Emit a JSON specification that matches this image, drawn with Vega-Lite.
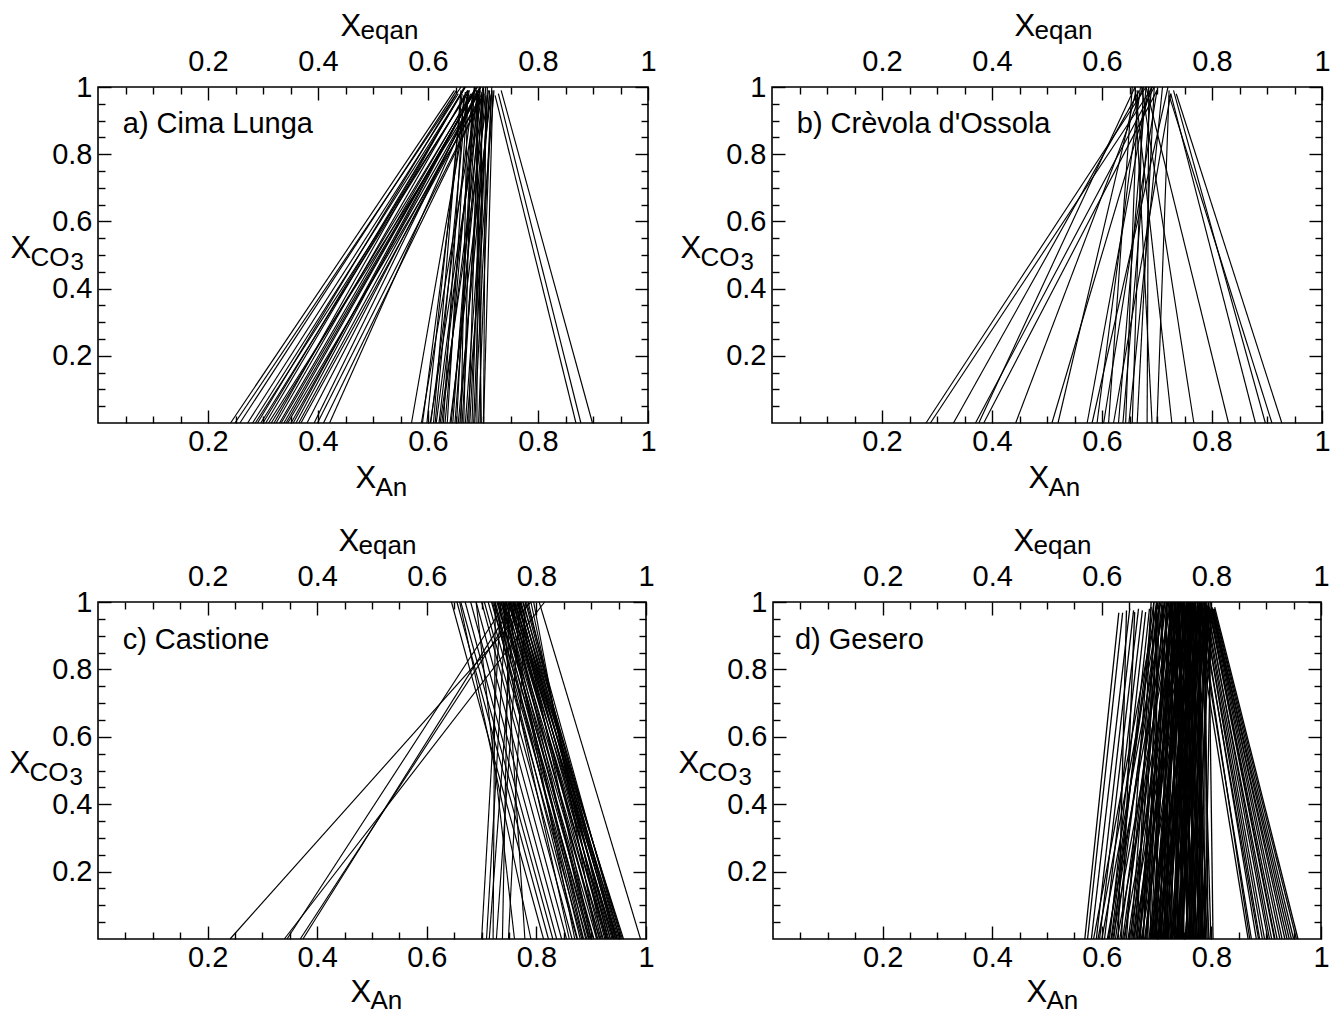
{
"$schema": "https://vega.github.io/schema/vega-lite/v6.json",
"background": "white",
"padding": {"left": 8, "top": 9, "right": 5, "bottom": 2},
"data": {"values": [
{"p":"a","an":0.241,"eq":0.648,"t":0.99},{"p":"a","an":0.249,"eq":0.660,"t":1},{"p":"a","an":0.258,"eq":0.652,"t":0.99},{"p":"a","an":0.272,"eq":0.655,"t":0.98},{"p":"a","an":0.281,"eq":0.668,"t":1},{"p":"a","an":0.286,"eq":0.672,"t":0.98},{"p":"a","an":0.290,"eq":0.650,"t":0.975},{"p":"a","an":0.296,"eq":0.675,"t":0.99},{"p":"a","an":0.300,"eq":0.662,"t":0.985},{"p":"a","an":0.305,"eq":0.668,"t":1},{"p":"a","an":0.310,"eq":0.688,"t":0.97},{"p":"a","an":0.315,"eq":0.680,"t":0.98},{"p":"a","an":0.320,"eq":0.666,"t":1},{"p":"a","an":0.324,"eq":0.672,"t":0.99},{"p":"a","an":0.330,"eq":0.678,"t":0.98},{"p":"a","an":0.333,"eq":0.690,"t":1},{"p":"a","an":0.338,"eq":0.686,"t":0.99},{"p":"a","an":0.342,"eq":0.680,"t":0.975},{"p":"a","an":0.345,"eq":0.698,"t":0.97},{"p":"a","an":0.351,"eq":0.694,"t":0.99},{"p":"a","an":0.355,"eq":0.684,"t":0.99},{"p":"a","an":0.360,"eq":0.688,"t":1},{"p":"a","an":0.365,"eq":0.692,"t":0.98},{"p":"a","an":0.369,"eq":0.698,"t":0.98},{"p":"a","an":0.380,"eq":0.696,"t":1},{"p":"a","an":0.393,"eq":0.690,"t":0.99},{"p":"a","an":0.399,"eq":0.700,"t":0.975},{"p":"a","an":0.410,"eq":0.702,"t":0.98},{"p":"a","an":0.421,"eq":0.694,"t":1},
{"p":"a","an":0.570,"eq":0.675,"t":0.99},{"p":"a","an":0.588,"eq":0.690,"t":0.975},{"p":"a","an":0.590,"eq":0.668,"t":0.985},{"p":"a","an":0.598,"eq":0.662,"t":0.98},{"p":"a","an":0.604,"eq":0.700,"t":1},{"p":"a","an":0.605,"eq":0.682,"t":0.98},{"p":"a","an":0.610,"eq":0.660,"t":0.99},{"p":"a","an":0.613,"eq":0.670,"t":0.97},{"p":"a","an":0.615,"eq":0.695,"t":1},{"p":"a","an":0.620,"eq":0.690,"t":0.985},{"p":"a","an":0.622,"eq":0.710,"t":0.99},{"p":"a","an":0.625,"eq":0.700,"t":0.975},{"p":"a","an":0.628,"eq":0.665,"t":0.975},{"p":"a","an":0.631,"eq":0.685,"t":1},{"p":"a","an":0.635,"eq":0.672,"t":0.99},{"p":"a","an":0.640,"eq":0.715,"t":0.98},{"p":"a","an":0.642,"eq":0.702,"t":0.98},{"p":"a","an":0.645,"eq":0.690,"t":0.97},{"p":"a","an":0.649,"eq":0.695,"t":0.99},{"p":"a","an":0.652,"eq":0.684,"t":1},{"p":"a","an":0.655,"eq":0.712,"t":0.975},{"p":"a","an":0.658,"eq":0.705,"t":1},{"p":"a","an":0.660,"eq":0.672,"t":0.985},{"p":"a","an":0.662,"eq":0.698,"t":0.975},{"p":"a","an":0.665,"eq":0.680,"t":0.97},{"p":"a","an":0.668,"eq":0.712,"t":0.99},{"p":"a","an":0.671,"eq":0.720,"t":0.99},{"p":"a","an":0.674,"eq":0.692,"t":0.98},{"p":"a","an":0.676,"eq":0.708,"t":0.975},{"p":"a","an":0.680,"eq":0.700,"t":0.98},{"p":"a","an":0.683,"eq":0.708,"t":1},{"p":"a","an":0.685,"eq":0.716,"t":1},{"p":"a","an":0.689,"eq":0.690,"t":0.97},{"p":"a","an":0.692,"eq":0.715,"t":0.975},{"p":"a","an":0.695,"eq":0.698,"t":0.985},{"p":"a","an":0.697,"eq":0.688,"t":0.99},{"p":"a","an":0.701,"eq":0.705,"t":0.975},{"p":"a","an":0.701,"eq":0.718,"t":0.99},
{"p":"a","an":0.869,"eq":0.722,"t":0.975},{"p":"a","an":0.878,"eq":0.728,"t":0.98},{"p":"a","an":0.899,"eq":0.733,"t":0.99},
{"p":"b","an":0.280,"eq":0.680,"t":1},{"p":"b","an":0.288,"eq":0.692,"t":1},{"p":"b","an":0.330,"eq":0.668,"t":0.99},{"p":"b","an":0.370,"eq":0.695,"t":1},{"p":"b","an":0.376,"eq":0.660,"t":1},{"p":"b","an":0.385,"eq":0.700,"t":0.99},{"p":"b","an":0.443,"eq":0.675,"t":1},{"p":"b","an":0.509,"eq":0.690,"t":1},{"p":"b","an":0.520,"eq":0.662,"t":0.99},{"p":"b","an":0.573,"eq":0.685,"t":1},{"p":"b","an":0.582,"eq":0.720,"t":1},{"p":"b","an":0.591,"eq":0.670,"t":1},{"p":"b","an":0.603,"eq":0.700,"t":0.99},{"p":"b","an":0.612,"eq":0.655,"t":1},{"p":"b","an":0.621,"eq":0.725,"t":0.98},{"p":"b","an":0.630,"eq":0.680,"t":1},{"p":"b","an":0.638,"eq":0.690,"t":1},{"p":"b","an":0.643,"eq":0.665,"t":0.99},{"p":"b","an":0.649,"eq":0.710,"t":1},{"p":"b","an":0.655,"eq":0.675,"t":1},{"p":"b","an":0.664,"eq":0.695,"t":1},{"p":"b","an":0.682,"eq":0.685,"t":1},{"p":"b","an":0.691,"eq":0.660,"t":1},{"p":"b","an":0.700,"eq":0.722,"t":0.99},{"p":"b","an":0.727,"eq":0.660,"t":1},{"p":"b","an":0.767,"eq":0.672,"t":1},{"p":"b","an":0.830,"eq":0.680,"t":1},{"p":"b","an":0.879,"eq":0.725,"t":0.98},{"p":"b","an":0.897,"eq":0.730,"t":0.99},{"p":"b","an":0.909,"eq":0.722,"t":0.975},{"p":"b","an":0.927,"eq":0.735,"t":0.98},
{"p":"c","an":0.241,"eq":0.790,"t":1},{"p":"c","an":0.340,"eq":0.815,"t":1},{"p":"c","an":0.345,"eq":0.745,"t":1},{"p":"c","an":0.369,"eq":0.770,"t":1},{"p":"c","an":0.374,"eq":0.760,"t":1},
{"p":"c","an":0.700,"eq":0.735,"t":1},{"p":"c","an":0.709,"eq":0.745,"t":1},{"p":"c","an":0.714,"eq":0.760,"t":1},{"p":"c","an":0.721,"eq":0.725,"t":1},{"p":"c","an":0.727,"eq":0.770,"t":1},{"p":"c","an":0.738,"eq":0.750,"t":1},{"p":"c","an":0.749,"eq":0.780,"t":1},{"p":"c","an":0.779,"eq":0.740,"t":1},{"p":"c","an":0.790,"eq":0.660,"t":1},{"p":"c","an":0.760,"eq":0.690,"t":1},
{"p":"c","an":0.813,"eq":0.645,"t":1},{"p":"c","an":0.822,"eq":0.655,"t":1},{"p":"c","an":0.830,"eq":0.662,"t":1},{"p":"c","an":0.837,"eq":0.670,"t":1},{"p":"c","an":0.846,"eq":0.680,"t":1},{"p":"c","an":0.855,"eq":0.690,"t":1},{"p":"c","an":0.865,"eq":0.700,"t":1},{"p":"c","an":0.874,"eq":0.705,"t":1},{"p":"c","an":0.883,"eq":0.712,"t":1},{"p":"c","an":0.892,"eq":0.718,"t":1},{"p":"c","an":0.898,"eq":0.722,"t":1},{"p":"c","an":0.904,"eq":0.728,"t":1},{"p":"c","an":0.910,"eq":0.732,"t":1},{"p":"c","an":0.916,"eq":0.736,"t":1},{"p":"c","an":0.922,"eq":0.740,"t":1},{"p":"c","an":0.929,"eq":0.744,"t":1},{"p":"c","an":0.935,"eq":0.748,"t":1},{"p":"c","an":0.941,"eq":0.752,"t":1},{"p":"c","an":0.947,"eq":0.756,"t":1},{"p":"c","an":0.953,"eq":0.760,"t":1},{"p":"c","an":0.959,"eq":0.764,"t":1},{"p":"c","an":0.880,"eq":0.730,"t":1},{"p":"c","an":0.890,"eq":0.738,"t":1},{"p":"c","an":0.900,"eq":0.742,"t":1},{"p":"c","an":0.912,"eq":0.750,"t":1},{"p":"c","an":0.925,"eq":0.754,"t":1},{"p":"c","an":0.932,"eq":0.758,"t":1},{"p":"c","an":0.938,"eq":0.762,"t":1},{"p":"c","an":0.944,"eq":0.766,"t":1},{"p":"c","an":0.950,"eq":0.770,"t":1},{"p":"c","an":0.955,"eq":0.775,"t":1},{"p":"c","an":0.945,"eq":0.780,"t":1},{"p":"c","an":0.930,"eq":0.785,"t":1},{"p":"c","an":0.920,"eq":0.790,"t":1},{"p":"c","an":0.910,"eq":0.795,"t":1},{"p":"c","an":0.990,"eq":0.805,"t":1},{"p":"c","an":0.935,"eq":0.772,"t":1},{"p":"c","an":0.900,"eq":0.768,"t":1},{"p":"c","an":0.870,"eq":0.746,"t":1},{"p":"c","an":0.860,"eq":0.724,"t":1},
{"p":"c","an":0.905,"eq":0.735,"t":1},{"p":"c","an":0.915,"eq":0.745,"t":1},{"p":"c","an":0.927,"eq":0.752,"t":1},{"p":"c","an":0.940,"eq":0.760,"t":1},{"p":"c","an":0.948,"eq":0.765,"t":1},{"p":"c","an":0.957,"eq":0.770,"t":1},{"p":"c","an":0.895,"eq":0.730,"t":1},{"p":"c","an":0.885,"eq":0.725,"t":1},{"p":"c","an":0.875,"eq":0.720,"t":1},{"p":"c","an":0.918,"eq":0.758,"t":1},{"p":"c","an":0.928,"eq":0.768,"t":1},{"p":"c","an":0.942,"eq":0.776,"t":1},{"p":"c","an":0.952,"eq":0.782,"t":1},{"p":"c","an":0.886,"eq":0.740,"t":1},{"p":"c","an":0.896,"eq":0.752,"t":1},
{"p":"d","an":0.569,"eq":0.631,"t":0.968},{"p":"d","an":0.574,"eq":0.638,"t":0.968},{"p":"d","an":0.581,"eq":0.651,"t":0.98},{"p":"d","an":0.590,"eq":0.658,"t":0.975},{"p":"d","an":0.596,"eq":0.667,"t":0.98},{"p":"d","an":0.605,"eq":0.674,"t":0.975},{"p":"d","an":0.614,"eq":0.680,"t":0.97},{"p":"d","an":0.622,"eq":0.687,"t":0.98},{"p":"d","an":0.630,"eq":0.645,"t":0.975},{"p":"d","an":0.636,"eq":0.660,"t":0.97},{"p":"d","an":0.645,"eq":0.690,"t":0.985},{"p":"d","an":0.653,"eq":0.700,"t":0.99},
{"p":"d","an":0.660,"eq":0.705,"t":1},{"p":"d","an":0.669,"eq":0.712,"t":0.99},{"p":"d","an":0.675,"eq":0.720,"t":1},{"p":"d","an":0.684,"eq":0.700,"t":1},{"p":"d","an":0.692,"eq":0.728,"t":0.99},{"p":"d","an":0.699,"eq":0.735,"t":1},{"p":"d","an":0.707,"eq":0.742,"t":1},{"p":"d","an":0.716,"eq":0.710,"t":0.99},{"p":"d","an":0.724,"eq":0.750,"t":1},{"p":"d","an":0.732,"eq":0.758,"t":1},{"p":"d","an":0.739,"eq":0.725,"t":0.99},{"p":"d","an":0.748,"eq":0.765,"t":1},{"p":"d","an":0.756,"eq":0.740,"t":1},{"p":"d","an":0.763,"eq":0.772,"t":0.99},{"p":"d","an":0.771,"eq":0.755,"t":1},{"p":"d","an":0.779,"eq":0.780,"t":1},{"p":"d","an":0.786,"eq":0.762,"t":0.99},{"p":"d","an":0.794,"eq":0.788,"t":1},{"p":"d","an":0.803,"eq":0.795,"t":0.98},
{"p":"d","an":0.600,"eq":0.715,"t":1},{"p":"d","an":0.610,"eq":0.725,"t":0.99},{"p":"d","an":0.620,"eq":0.735,"t":1},{"p":"d","an":0.628,"eq":0.745,"t":1},{"p":"d","an":0.640,"eq":0.752,"t":0.99},{"p":"d","an":0.650,"eq":0.760,"t":1},{"p":"d","an":0.658,"eq":0.768,"t":1},{"p":"d","an":0.665,"eq":0.730,"t":1},{"p":"d","an":0.672,"eq":0.775,"t":0.99},{"p":"d","an":0.680,"eq":0.745,"t":1},{"p":"d","an":0.688,"eq":0.782,"t":1},{"p":"d","an":0.695,"eq":0.755,"t":1},{"p":"d","an":0.703,"eq":0.790,"t":0.99},{"p":"d","an":0.711,"eq":0.765,"t":1},{"p":"d","an":0.719,"eq":0.770,"t":1},{"p":"d","an":0.728,"eq":0.785,"t":1},{"p":"d","an":0.736,"eq":0.792,"t":0.99},{"p":"d","an":0.744,"eq":0.775,"t":1},{"p":"d","an":0.752,"eq":0.798,"t":1},{"p":"d","an":0.760,"eq":0.790,"t":0.98},{"p":"d","an":0.767,"eq":0.800,"t":0.98},{"p":"d","an":0.775,"eq":0.722,"t":1},{"p":"d","an":0.783,"eq":0.733,"t":1},{"p":"d","an":0.790,"eq":0.748,"t":0.99},{"p":"d","an":0.585,"eq":0.700,"t":0.99},{"p":"d","an":0.593,"eq":0.708,"t":1},{"p":"d","an":0.617,"eq":0.695,"t":1},{"p":"d","an":0.633,"eq":0.718,"t":1},{"p":"d","an":0.662,"eq":0.740,"t":1},{"p":"d","an":0.690,"eq":0.718,"t":1},{"p":"d","an":0.714,"eq":0.750,"t":1},{"p":"d","an":0.742,"eq":0.760,"t":1},{"p":"d","an":0.758,"eq":0.728,"t":1},
{"p":"d","an":0.612,"eq":0.700,"t":1},{"p":"d","an":0.618,"eq":0.712,"t":0.99},{"p":"d","an":0.625,"eq":0.705,"t":1},{"p":"d","an":0.638,"eq":0.725,"t":1},{"p":"d","an":0.642,"eq":0.710,"t":1},{"p":"d","an":0.648,"eq":0.735,"t":0.99},{"p":"d","an":0.655,"eq":0.715,"t":1},{"p":"d","an":0.668,"eq":0.750,"t":1},{"p":"d","an":0.670,"eq":0.722,"t":1},{"p":"d","an":0.678,"eq":0.758,"t":0.99},{"p":"d","an":0.682,"eq":0.735,"t":1},{"p":"d","an":0.686,"eq":0.765,"t":1},{"p":"d","an":0.694,"eq":0.740,"t":1},{"p":"d","an":0.697,"eq":0.772,"t":1},{"p":"d","an":0.701,"eq":0.748,"t":0.99},{"p":"d","an":0.705,"eq":0.778,"t":1},{"p":"d","an":0.709,"eq":0.735,"t":1},{"p":"d","an":0.713,"eq":0.785,"t":1},{"p":"d","an":0.717,"eq":0.758,"t":1},{"p":"d","an":0.721,"eq":0.742,"t":0.99},{"p":"d","an":0.726,"eq":0.795,"t":1},{"p":"d","an":0.730,"eq":0.768,"t":1},{"p":"d","an":0.734,"eq":0.745,"t":1},{"p":"d","an":0.738,"eq":0.780,"t":1},{"p":"d","an":0.741,"eq":0.752,"t":0.99},{"p":"d","an":0.746,"eq":0.788,"t":1},{"p":"d","an":0.750,"eq":0.735,"t":1},{"p":"d","an":0.754,"eq":0.770,"t":1},{"p":"d","an":0.757,"eq":0.795,"t":0.99},{"p":"d","an":0.762,"eq":0.750,"t":1},{"p":"d","an":0.765,"eq":0.785,"t":1},{"p":"d","an":0.769,"eq":0.738,"t":1},{"p":"d","an":0.773,"eq":0.795,"t":1},{"p":"d","an":0.777,"eq":0.760,"t":1},{"p":"d","an":0.781,"eq":0.792,"t":0.99},{"p":"d","an":0.785,"eq":0.745,"t":1},{"p":"d","an":0.788,"eq":0.800,"t":1},{"p":"d","an":0.792,"eq":0.770,"t":1},{"p":"d","an":0.796,"eq":0.760,"t":1},{"p":"d","an":0.799,"eq":0.782,"t":0.99},{"p":"d","an":0.700,"eq":0.700,"t":1},{"p":"d","an":0.720,"eq":0.718,"t":1},{"p":"d","an":0.740,"eq":0.732,"t":1},{"p":"d","an":0.760,"eq":0.760,"t":1},{"p":"d","an":0.780,"eq":0.775,"t":1},{"p":"d","an":0.664,"eq":0.690,"t":1},{"p":"d","an":0.676,"eq":0.695,"t":1},{"p":"d","an":0.688,"eq":0.705,"t":0.99},{"p":"d","an":0.698,"eq":0.712,"t":1},{"p":"d","an":0.706,"eq":0.725,"t":1},
{"p":"d","an":0.690,"eq":0.760,"t":1},{"p":"d","an":0.693,"eq":0.725,"t":1},{"p":"d","an":0.696,"eq":0.748,"t":1},{"p":"d","an":0.702,"eq":0.768,"t":1},{"p":"d","an":0.704,"eq":0.730,"t":1},{"p":"d","an":0.708,"eq":0.755,"t":1},{"p":"d","an":0.710,"eq":0.780,"t":1},{"p":"d","an":0.712,"eq":0.742,"t":1},{"p":"d","an":0.715,"eq":0.770,"t":1},{"p":"d","an":0.718,"eq":0.732,"t":1},{"p":"d","an":0.722,"eq":0.762,"t":1},{"p":"d","an":0.725,"eq":0.778,"t":1},{"p":"d","an":0.727,"eq":0.738,"t":1},{"p":"d","an":0.729,"eq":0.755,"t":1},{"p":"d","an":0.733,"eq":0.772,"t":1},{"p":"d","an":0.735,"eq":0.790,"t":1},{"p":"d","an":0.737,"eq":0.748,"t":1},{"p":"d","an":0.743,"eq":0.765,"t":1},{"p":"d","an":0.745,"eq":0.782,"t":1},{"p":"d","an":0.747,"eq":0.742,"t":1},{"p":"d","an":0.749,"eq":0.758,"t":1},{"p":"d","an":0.753,"eq":0.788,"t":1},{"p":"d","an":0.755,"eq":0.752,"t":1},{"p":"d","an":0.759,"eq":0.775,"t":1},{"p":"d","an":0.761,"eq":0.738,"t":1},{"p":"d","an":0.764,"eq":0.768,"t":1},{"p":"d","an":0.766,"eq":0.792,"t":1},{"p":"d","an":0.768,"eq":0.756,"t":1},{"p":"d","an":0.770,"eq":0.780,"t":1},{"p":"d","an":0.774,"eq":0.748,"t":1},{"p":"d","an":0.776,"eq":0.788,"t":1},{"p":"d","an":0.778,"eq":0.765,"t":1},{"p":"d","an":0.782,"eq":0.755,"t":1},{"p":"d","an":0.784,"eq":0.778,"t":1},{"p":"d","an":0.787,"eq":0.790,"t":1},{"p":"d","an":0.789,"eq":0.765,"t":1},{"p":"d","an":0.680,"eq":0.728,"t":1},{"p":"d","an":0.674,"eq":0.738,"t":1},{"p":"d","an":0.667,"eq":0.745,"t":1},{"p":"d","an":0.657,"eq":0.728,"t":1},
{"p":"d","an":0.867,"eq":0.770,"t":0.98},{"p":"d","an":0.870,"eq":0.778,"t":0.98},{"p":"d","an":0.873,"eq":0.775,"t":0.975},{"p":"d","an":0.882,"eq":0.782,"t":0.98},{"p":"d","an":0.886,"eq":0.780,"t":0.98},{"p":"d","an":0.888,"eq":0.785,"t":0.985},{"p":"d","an":0.893,"eq":0.786,"t":0.975},{"p":"d","an":0.897,"eq":0.788,"t":0.98},{"p":"d","an":0.903,"eq":0.790,"t":0.975},{"p":"d","an":0.906,"eq":0.793,"t":0.98},{"p":"d","an":0.910,"eq":0.792,"t":0.98},{"p":"d","an":0.915,"eq":0.795,"t":0.985},{"p":"d","an":0.916,"eq":0.797,"t":0.98},{"p":"d","an":0.920,"eq":0.796,"t":0.985},{"p":"d","an":0.925,"eq":0.799,"t":0.975},{"p":"d","an":0.929,"eq":0.800,"t":0.98},{"p":"d","an":0.934,"eq":0.801,"t":0.985},{"p":"d","an":0.938,"eq":0.800,"t":0.98},{"p":"d","an":0.942,"eq":0.802,"t":0.98},{"p":"d","an":0.946,"eq":0.803,"t":0.975},{"p":"d","an":0.950,"eq":0.804,"t":0.98},{"p":"d","an":0.955,"eq":0.805,"t":0.98},{"p":"d","an":0.958,"eq":0.806,"t":0.985}
]},
"vconcat": [
{"hconcat": [
{"width": 550, "height": 336,
 "transform": [{"filter": "datum.p === 'a'"}],
 "resolve": {"axis": {"x": "independent", "y": "independent"}},
 "layer": [
  {"mark": {"type": "rule", "color": "black", "strokeWidth": 1.15},
   "encoding": {
    "x": {"field": "eq", "type": "quantitative", "scale": {"domain": [0, 1], "nice": false, "zero": false}, "axis": {"orient": "bottom", "values": [0.2, 0.4, 0.6, 0.8, 1], "format": "~g", "tickSize": -13, "labelPadding": 17, "title": "X", "titleX": 257, "titleY": 64, "titleFontSize": 31}},
    "x2": {"field": "an"},
    "y": {"field": "t", "type": "quantitative", "scale": {"domain": [0, 1], "nice": false, "zero": false}, "axis": {"orient": "left", "values": [0.2, 0.4, 0.6, 0.8, 1], "format": "~g", "tickSize": -13, "labelPadding": 19, "title": "X", "titleX": -88, "titleY": 170, "titleFontSize": 31}},
    "y2": {"datum": 0}}},
  {"mark": {"type": "point", "opacity": 0},
   "encoding": {
    "x": {"field": "an", "type": "quantitative", "scale": {"domain": [0, 1], "nice": false, "zero": false}, "axis": {"orient": "top", "values": [0.2, 0.4, 0.6, 0.8, 1], "format": "~g", "tickSize": -13, "labelPadding": 24, "title": "X", "titleX": 242, "titleY": -52, "titleFontSize": 31}},
    "y": {"field": "t", "type": "quantitative", "scale": {"domain": [0, 1], "nice": false, "zero": false}, "axis": {"orient": "right", "values": [0.2, 0.4, 0.6, 0.8, 1], "labels": false, "tickSize": -13, "title": null}}}},
  {"mark": {"type": "point", "opacity": 0},
   "encoding": {
    "x": {"field": "an", "type": "quantitative", "scale": {"domain": [0, 1], "nice": false, "zero": false}, "axis": {"orient": "bottom", "values": [0.05, 0.1, 0.15, 0.25, 0.3, 0.35, 0.45, 0.5, 0.55, 0.65, 0.7, 0.75, 0.85, 0.9, 0.95], "labels": false, "tickSize": -7, "title": "An", "titleX": 277, "titleY": 72}},
    "y": {"field": "t", "type": "quantitative", "scale": {"domain": [0, 1], "nice": false, "zero": false}, "axis": {"orient": "left", "values": [0.05, 0.1, 0.15, 0.25, 0.3, 0.35, 0.45, 0.5, 0.55, 0.65, 0.7, 0.75, 0.85, 0.9, 0.95], "labels": false, "tickSize": -7, "title": "CO", "titleX": -68, "titleY": 178}}}},
  {"mark": {"type": "point", "opacity": 0},
   "encoding": {
    "x": {"field": "an", "type": "quantitative", "scale": {"domain": [0, 1], "nice": false, "zero": false}, "axis": {"orient": "top", "values": [0.05, 0.1, 0.15, 0.25, 0.3, 0.35, 0.45, 0.5, 0.55, 0.65, 0.7, 0.75, 0.85, 0.9, 0.95], "labels": false, "tickSize": -7, "title": "eqan", "titleX": 262, "titleY": -49}},
    "y": {"field": "t", "type": "quantitative", "scale": {"domain": [0, 1], "nice": false, "zero": false}, "axis": {"orient": "right", "values": [0.05, 0.1, 0.15, 0.25, 0.3, 0.35, 0.45, 0.5, 0.55, 0.65, 0.7, 0.75, 0.85, 0.9, 0.95], "labels": false, "tickSize": -7, "title": null}}}},
  {"mark": {"type": "point", "opacity": 0},
   "encoding": {
    "x": {"field": "an", "type": "quantitative", "scale": {"domain": [0, 1], "nice": false, "zero": false}, "axis": null},
    "y": {"field": "t", "type": "quantitative", "scale": {"domain": [0, 1], "nice": false, "zero": false}, "axis": {"orient": "left", "ticks": false, "labels": false, "title": "3", "titleX": -28, "titleY": 182, "titleFontSize": 24}}}},
  {"data": {"values": [{"label": "a) Cima Lunga"}]},
   "mark": {"type": "text", "align": "left", "baseline": "alphabetic", "fontSize": 29, "font": "Liberation Sans", "color": "black"},
   "encoding": {
    "x": {"datum": 0.045, "type": "quantitative", "scale": {"domain": [0, 1], "nice": false, "zero": false}, "axis": null},
    "y": {"datum": 0.862, "type": "quantitative", "scale": {"domain": [0, 1], "nice": false, "zero": false}, "axis": null},
    "text": {"field": "label"}}}
 ]},
{"width": 550, "height": 336,
 "transform": [{"filter": "datum.p === 'b'"}],
 "resolve": {"axis": {"x": "independent", "y": "independent"}},
 "layer": [
  {"mark": {"type": "rule", "color": "black", "strokeWidth": 1.15},
   "encoding": {
    "x": {"field": "eq", "type": "quantitative", "scale": {"domain": [0, 1], "nice": false, "zero": false}, "axis": {"orient": "bottom", "values": [0.2, 0.4, 0.6, 0.8, 1], "format": "~g", "tickSize": -13, "labelPadding": 17, "title": "X", "titleX": 256, "titleY": 64, "titleFontSize": 31}},
    "x2": {"field": "an"},
    "y": {"field": "t", "type": "quantitative", "scale": {"domain": [0, 1], "nice": false, "zero": false}, "axis": {"orient": "left", "values": [0.2, 0.4, 0.6, 0.8, 1], "format": "~g", "tickSize": -13, "labelPadding": 19, "title": "X", "titleX": -92, "titleY": 170, "titleFontSize": 31}},
    "y2": {"datum": 0}}},
  {"mark": {"type": "point", "opacity": 0},
   "encoding": {
    "x": {"field": "an", "type": "quantitative", "scale": {"domain": [0, 1], "nice": false, "zero": false}, "axis": {"orient": "top", "values": [0.2, 0.4, 0.6, 0.8, 1], "format": "~g", "tickSize": -13, "labelPadding": 24, "title": "X", "titleX": 242, "titleY": -52, "titleFontSize": 31}},
    "y": {"field": "t", "type": "quantitative", "scale": {"domain": [0, 1], "nice": false, "zero": false}, "axis": {"orient": "right", "values": [0.2, 0.4, 0.6, 0.8, 1], "labels": false, "tickSize": -13, "title": null}}}},
  {"mark": {"type": "point", "opacity": 0},
   "encoding": {
    "x": {"field": "an", "type": "quantitative", "scale": {"domain": [0, 1], "nice": false, "zero": false}, "axis": {"orient": "bottom", "values": [0.05, 0.1, 0.15, 0.25, 0.3, 0.35, 0.45, 0.5, 0.55, 0.65, 0.7, 0.75, 0.85, 0.9, 0.95], "labels": false, "tickSize": -7, "title": "An", "titleX": 276, "titleY": 72}},
    "y": {"field": "t", "type": "quantitative", "scale": {"domain": [0, 1], "nice": false, "zero": false}, "axis": {"orient": "left", "values": [0.05, 0.1, 0.15, 0.25, 0.3, 0.35, 0.45, 0.5, 0.55, 0.65, 0.7, 0.75, 0.85, 0.9, 0.95], "labels": false, "tickSize": -7, "title": "CO", "titleX": -72, "titleY": 178}}}},
  {"mark": {"type": "point", "opacity": 0},
   "encoding": {
    "x": {"field": "an", "type": "quantitative", "scale": {"domain": [0, 1], "nice": false, "zero": false}, "axis": {"orient": "top", "values": [0.05, 0.1, 0.15, 0.25, 0.3, 0.35, 0.45, 0.5, 0.55, 0.65, 0.7, 0.75, 0.85, 0.9, 0.95], "labels": false, "tickSize": -7, "title": "eqan", "titleX": 262, "titleY": -49}},
    "y": {"field": "t", "type": "quantitative", "scale": {"domain": [0, 1], "nice": false, "zero": false}, "axis": {"orient": "right", "values": [0.05, 0.1, 0.15, 0.25, 0.3, 0.35, 0.45, 0.5, 0.55, 0.65, 0.7, 0.75, 0.85, 0.9, 0.95], "labels": false, "tickSize": -7, "title": null}}}},
  {"mark": {"type": "point", "opacity": 0},
   "encoding": {
    "x": {"field": "an", "type": "quantitative", "scale": {"domain": [0, 1], "nice": false, "zero": false}, "axis": null},
    "y": {"field": "t", "type": "quantitative", "scale": {"domain": [0, 1], "nice": false, "zero": false}, "axis": {"orient": "left", "ticks": false, "labels": false, "title": "3", "titleX": -32, "titleY": 182, "titleFontSize": 24}}}},
  {"data": {"values": [{"label": "b) Crèvola d'Ossola"}]},
   "mark": {"type": "text", "align": "left", "baseline": "alphabetic", "fontSize": 29, "font": "Liberation Sans", "color": "black"},
   "encoding": {
    "x": {"datum": 0.045, "type": "quantitative", "scale": {"domain": [0, 1], "nice": false, "zero": false}, "axis": null},
    "y": {"datum": 0.862, "type": "quantitative", "scale": {"domain": [0, 1], "nice": false, "zero": false}, "axis": null},
    "text": {"field": "label"}}}
 ]}
], "spacing": 22},
{"hconcat": [
{"width": 548, "height": 337,
 "transform": [{"filter": "datum.p === 'c'"}],
 "resolve": {"axis": {"x": "independent", "y": "independent"}},
 "layer": [
  {"mark": {"type": "rule", "color": "black", "strokeWidth": 1.15},
   "encoding": {
    "x": {"field": "eq", "type": "quantitative", "scale": {"domain": [0, 1], "nice": false, "zero": false}, "axis": {"orient": "bottom", "values": [0.2, 0.4, 0.6, 0.8, 1], "format": "~g", "tickSize": -13, "labelPadding": 17, "title": "X", "titleX": 252, "titleY": 62, "titleFontSize": 31}},
    "x2": {"field": "an"},
    "y": {"field": "t", "type": "quantitative", "scale": {"domain": [0, 1], "nice": false, "zero": false}, "axis": {"orient": "left", "values": [0.2, 0.4, 0.6, 0.8, 1], "format": "~g", "tickSize": -13, "labelPadding": 19, "title": "X", "titleX": -89, "titleY": 170, "titleFontSize": 31}},
    "y2": {"datum": 0}}},
  {"mark": {"type": "point", "opacity": 0},
   "encoding": {
    "x": {"field": "an", "type": "quantitative", "scale": {"domain": [0, 1], "nice": false, "zero": false}, "axis": {"orient": "top", "values": [0.2, 0.4, 0.6, 0.8, 1], "format": "~g", "tickSize": -13, "labelPadding": 24, "title": "X", "titleX": 240, "titleY": -52, "titleFontSize": 31}},
    "y": {"field": "t", "type": "quantitative", "scale": {"domain": [0, 1], "nice": false, "zero": false}, "axis": {"orient": "right", "values": [0.2, 0.4, 0.6, 0.8, 1], "labels": false, "tickSize": -13, "title": null}}}},
  {"mark": {"type": "point", "opacity": 0},
   "encoding": {
    "x": {"field": "an", "type": "quantitative", "scale": {"domain": [0, 1], "nice": false, "zero": false}, "axis": {"orient": "bottom", "values": [0.05, 0.1, 0.15, 0.25, 0.3, 0.35, 0.45, 0.5, 0.55, 0.65, 0.7, 0.75, 0.85, 0.9, 0.95], "labels": false, "tickSize": -7, "title": "An", "titleX": 272, "titleY": 69}},
    "y": {"field": "t", "type": "quantitative", "scale": {"domain": [0, 1], "nice": false, "zero": false}, "axis": {"orient": "left", "values": [0.05, 0.1, 0.15, 0.25, 0.3, 0.35, 0.45, 0.5, 0.55, 0.65, 0.7, 0.75, 0.85, 0.9, 0.95], "labels": false, "tickSize": -7, "title": "CO", "titleX": -69, "titleY": 178}}}},
  {"mark": {"type": "point", "opacity": 0},
   "encoding": {
    "x": {"field": "an", "type": "quantitative", "scale": {"domain": [0, 1], "nice": false, "zero": false}, "axis": {"orient": "top", "values": [0.05, 0.1, 0.15, 0.25, 0.3, 0.35, 0.45, 0.5, 0.55, 0.65, 0.7, 0.75, 0.85, 0.9, 0.95], "labels": false, "tickSize": -7, "title": "eqan", "titleX": 260, "titleY": -49}},
    "y": {"field": "t", "type": "quantitative", "scale": {"domain": [0, 1], "nice": false, "zero": false}, "axis": {"orient": "right", "values": [0.05, 0.1, 0.15, 0.25, 0.3, 0.35, 0.45, 0.5, 0.55, 0.65, 0.7, 0.75, 0.85, 0.9, 0.95], "labels": false, "tickSize": -7, "title": null}}}},
  {"mark": {"type": "point", "opacity": 0},
   "encoding": {
    "x": {"field": "an", "type": "quantitative", "scale": {"domain": [0, 1], "nice": false, "zero": false}, "axis": null},
    "y": {"field": "t", "type": "quantitative", "scale": {"domain": [0, 1], "nice": false, "zero": false}, "axis": {"orient": "left", "ticks": false, "labels": false, "title": "3", "titleX": -29, "titleY": 182, "titleFontSize": 24}}}},
  {"data": {"values": [{"label": "c) Castione"}]},
   "mark": {"type": "text", "align": "left", "baseline": "alphabetic", "fontSize": 29, "font": "Liberation Sans", "color": "black"},
   "encoding": {
    "x": {"datum": 0.045, "type": "quantitative", "scale": {"domain": [0, 1], "nice": false, "zero": false}, "axis": null},
    "y": {"datum": 0.862, "type": "quantitative", "scale": {"domain": [0, 1], "nice": false, "zero": false}, "axis": null},
    "text": {"field": "label"}}}
 ]},
{"width": 548, "height": 337,
 "transform": [{"filter": "datum.p === 'd'"}],
 "resolve": {"axis": {"x": "independent", "y": "independent"}},
 "layer": [
  {"mark": {"type": "rule", "color": "black", "strokeWidth": 1.3},
   "encoding": {
    "x": {"field": "eq", "type": "quantitative", "scale": {"domain": [0, 1], "nice": false, "zero": false}, "axis": {"orient": "bottom", "values": [0.2, 0.4, 0.6, 0.8, 1], "format": "~g", "tickSize": -13, "labelPadding": 17, "title": "X", "titleX": 253, "titleY": 62, "titleFontSize": 31}},
    "x2": {"field": "an"},
    "y": {"field": "t", "type": "quantitative", "scale": {"domain": [0, 1], "nice": false, "zero": false}, "axis": {"orient": "left", "values": [0.2, 0.4, 0.6, 0.8, 1], "format": "~g", "tickSize": -13, "labelPadding": 19, "title": "X", "titleX": -95, "titleY": 170, "titleFontSize": 31}},
    "y2": {"datum": 0}}},
  {"mark": {"type": "point", "opacity": 0},
   "encoding": {
    "x": {"field": "an", "type": "quantitative", "scale": {"domain": [0, 1], "nice": false, "zero": false}, "axis": {"orient": "top", "values": [0.2, 0.4, 0.6, 0.8, 1], "format": "~g", "tickSize": -13, "labelPadding": 24, "title": "X", "titleX": 240, "titleY": -52, "titleFontSize": 31}},
    "y": {"field": "t", "type": "quantitative", "scale": {"domain": [0, 1], "nice": false, "zero": false}, "axis": {"orient": "right", "values": [0.2, 0.4, 0.6, 0.8, 1], "labels": false, "tickSize": -13, "title": null}}}},
  {"mark": {"type": "point", "opacity": 0},
   "encoding": {
    "x": {"field": "an", "type": "quantitative", "scale": {"domain": [0, 1], "nice": false, "zero": false}, "axis": {"orient": "bottom", "values": [0.05, 0.1, 0.15, 0.25, 0.3, 0.35, 0.45, 0.5, 0.55, 0.65, 0.7, 0.75, 0.85, 0.9, 0.95], "labels": false, "tickSize": -7, "title": "An", "titleX": 273, "titleY": 69}},
    "y": {"field": "t", "type": "quantitative", "scale": {"domain": [0, 1], "nice": false, "zero": false}, "axis": {"orient": "left", "values": [0.05, 0.1, 0.15, 0.25, 0.3, 0.35, 0.45, 0.5, 0.55, 0.65, 0.7, 0.75, 0.85, 0.9, 0.95], "labels": false, "tickSize": -7, "title": "CO", "titleX": -75, "titleY": 178}}}},
  {"mark": {"type": "point", "opacity": 0},
   "encoding": {
    "x": {"field": "an", "type": "quantitative", "scale": {"domain": [0, 1], "nice": false, "zero": false}, "axis": {"orient": "top", "values": [0.05, 0.1, 0.15, 0.25, 0.3, 0.35, 0.45, 0.5, 0.55, 0.65, 0.7, 0.75, 0.85, 0.9, 0.95], "labels": false, "tickSize": -7, "title": "eqan", "titleX": 260, "titleY": -49}},
    "y": {"field": "t", "type": "quantitative", "scale": {"domain": [0, 1], "nice": false, "zero": false}, "axis": {"orient": "right", "values": [0.05, 0.1, 0.15, 0.25, 0.3, 0.35, 0.45, 0.5, 0.55, 0.65, 0.7, 0.75, 0.85, 0.9, 0.95], "labels": false, "tickSize": -7, "title": null}}}},
  {"mark": {"type": "point", "opacity": 0},
   "encoding": {
    "x": {"field": "an", "type": "quantitative", "scale": {"domain": [0, 1], "nice": false, "zero": false}, "axis": null},
    "y": {"field": "t", "type": "quantitative", "scale": {"domain": [0, 1], "nice": false, "zero": false}, "axis": {"orient": "left", "ticks": false, "labels": false, "title": "3", "titleX": -35, "titleY": 182, "titleFontSize": 24}}}},
  {"data": {"values": [{"label": "d) Gesero"}]},
   "mark": {"type": "text", "align": "left", "baseline": "alphabetic", "fontSize": 29, "font": "Liberation Sans", "color": "black"},
   "encoding": {
    "x": {"datum": 0.04, "type": "quantitative", "scale": {"domain": [0, 1], "nice": false, "zero": false}, "axis": null},
    "y": {"datum": 0.862, "type": "quantitative", "scale": {"domain": [0, 1], "nice": false, "zero": false}, "axis": null},
    "text": {"field": "label"}}}
 ]}
], "spacing": 22}
],
"spacing": 23,
"config": {
 "view": {"stroke": "black", "strokeWidth": 1.6},
 "axis": {"domain": false, "grid": false, "tickColor": "black", "tickWidth": 1.4, "labelFont": "Liberation Sans", "labelFontSize": 29, "labelColor": "black", "titleFont": "Liberation Sans", "titleFontSize": 26, "titleFontWeight": "normal", "titleColor": "black", "titleAngle": 0, "titleAlign": "left", "titleBaseline": "alphabetic", "labelFlush": false, "labelOverlap": false, "titlePadding": 0},
 "axisLeft": {"titleAngle": 0, "titleAlign": "left"},
 "axisRight": {"titleAngle": 0}
}
}
